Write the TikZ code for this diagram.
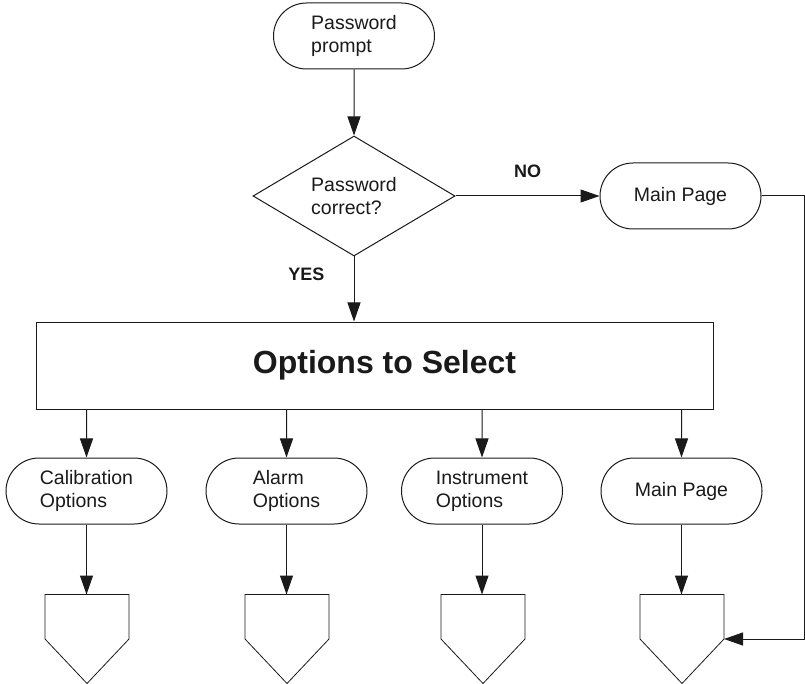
\documentclass[tikz,border=0pt]{standalone}
\usepackage{fontspec}
\setmainfont{Liberation Sans}
\usetikzlibrary{arrows.meta,shapes.geometric,shapes.misc}
\definecolor{ink}{HTML}{1A1A1A}

\begin{document}
\begin{tikzpicture}[x=1pt,y=-1pt,line width=1pt,draw=ink,text=ink,
    >={Triangle[length=19pt,width=13pt]},
    every node/.style={font=\fontsize{19.5}{23}\selectfont},
    term/.style={draw,rounded rectangle,minimum width=165pt,
      minimum height=66pt,inner sep=2pt,align=left},
    decide/.style={draw,diamond,aspect=1.7,minimum width=202pt,
      minimum height=120pt,inner sep=0pt,align=left},
    optbox/.style={draw,minimum width=677pt,minimum height=87pt,
      font=\fontsize{32}{38}\selectfont\bfseries},
    offpage/.style={minimum width=83pt,minimum height=88pt,inner sep=0pt},
    lbl/.style={inner sep=0pt,font=\fontsize{18}{21}\selectfont\bfseries}]
  \useasboundingbox[fill=white] (0,0) rectangle (805,684);
  % top of the chart
  \node[term] (pwd) at (354,36) {Password\\prompt};
  \node[decide] (chk) at (354,196) {Password\\correct?};
  \node[term] (mp) at (680.5,196) {Main Page};
  \node[optbox] (opts) at (374.5,365.5) {\hspace*{20pt}Options to Select};
  % the four choices
  \node[term] (cal) at (86.5,491) {Calibration\\Options};
  \node[term] (alm) at (286.5,491) {Alarm\\Options};
  \node[term] (ins) at (482,491) {Instrument\\Options};
  \node[term] (mp2) at (681.5,491) {Main Page};
  \foreach \n/\x in {1/87,2/287,3/483,4/682}{
    \node[offpage] (off\n) at (\x,639) {};
    \draw[line width=.8pt] (off\n.west) -- (off\n.north west)
      -- (off\n.north east) -- (off\n.east) -- (off\n.south) -- cycle;
  }
  \coordinate (rail) at (804,196);
  % connectors
  \draw[->] (pwd) -- (chk);
  \draw[->] (chk) -- node[lbl,above=18pt] {NO} (mp);
  \draw[->] (chk.south) -- node[lbl,left=29pt,pos=.27] {YES}
    (chk.south |- opts.north);
  \foreach \t/\o in {cal/off1,alm/off2,ins/off3,mp2/off4}{
    \draw[->] (opts.south -| \t) -- (\t);
    \draw[->] (\t.south) -- (\t.south |- \o.north);
  }
  \draw[->] (mp.east) -- (rail) |- (off4.east);
\end{tikzpicture}
\end{document}
